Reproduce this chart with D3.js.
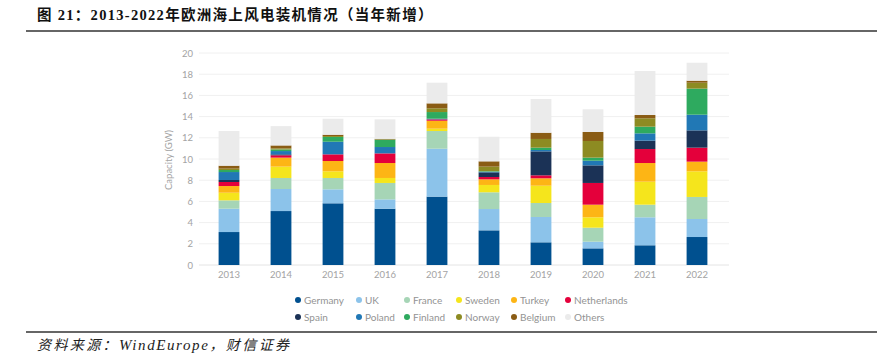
<!DOCTYPE html>
<html>
<head>
<meta charset="utf-8">
<script src="https://cdn.jsdelivr.net/npm/d3@7"></script>
<style>
  body{margin:0;background:#fff;}
  svg{display:block;}
</style>
</head>
<body>
<svg id="chart"></svg>
<script>
// years and countries
const years = ["2013","2014","2015","2016","2017","2018","2019","2020","2021","2022"];
const countries = ["Germany","UK","France","Sweden","Turkey","Netherlands","Spain","Poland","Finland","Norway","Belgium","Others"];
const colors = ["#00508f","#8cc3ea","#a6d5b6","#f5e51c","#fdb515","#e4003b","#1b3256","#2178b5","#2eaa5f","#8d8b22","#8a5c14","#ebebeb"];

// annual additions (GW), one array per country
const germany     = [3.11,5.09,5.82,5.31,6.45,3.27,2.14,1.57,1.86,2.64];
const uk          = [2.20,2.08,1.32,0.88,4.52,2.01,2.39,0.63,2.64,1.70];
const france      = [0.79,1.04,1.07,1.55,1.67,1.58,1.32,1.32,1.19,2.08];
const sweden      = [0.72,1.07,0.63,0.47,0.22,0.69,1.63,0.98,2.17,2.42];
const turkey      = [0.63,0.85,0.97,1.41,0.75,0.53,0.70,1.19,1.76,0.91];
const netherlands = [0.38,0.22,0.63,0.91,0.13,0.22,0.28,2.05,1.32,1.32];
const spain       = [0.19,0.09,0.00,0.00,0.00,0.44,2.26,1.66,0.79,1.63];
const poland      = [0.75,0.31,1.19,0.60,0.06,0.06,0.13,0.44,0.69,1.48];
const finland     = [0.19,0.15,0.45,0.69,0.63,0.05,0.22,0.29,0.63,2.46];
const norway      = [0.13,0.10,0.09,0.03,0.35,0.43,0.82,1.57,0.79,0.56];
const belgium     = [0.28,0.28,0.12,0.05,0.47,0.50,0.59,0.85,0.31,0.19];
const others      = [3.27,1.82,1.51,1.84,1.95,2.32,3.18,2.14,4.15,1.69];
const series = [germany,uk,france,sweden,turkey,netherlands,spain,poland,finland,norway,belgium,others];

const yTicks = [0,2,4,6,8,10,12,14,16,18,20];

const WIDTH = 879, HEIGHT = 363;
const GREY_TEXT = "#a3a3a3";
const SERIF = "'Liberation Serif','Noto Sans CJK SC',serif";
const svg = d3.select("#chart").attr("width", WIDTH).attr("height", HEIGHT);

// title + rules
svg.append("text")
  .attr("x", 37).attr("y", 20)
  .attr("font-family", SERIF)
  .attr("font-weight", "bold")
  .attr("font-size", 14.5)
  .attr("letter-spacing", 1.3)
  .attr("fill", "#111")
  .text("图 21：2013-2022年欧洲海上风电装机情况（当年新增）");

svg.append("line").attr("x1", 26).attr("x2", 877).attr("y1", 31).attr("y2", 31)
  .attr("stroke", "#333").attr("stroke-width", 1.5);
svg.append("line").attr("x1", 26).attr("x2", 877).attr("y1", 332).attr("y2", 332)
  .attr("stroke", "#333").attr("stroke-width", 1.5);

// source line, latin part kept tighter than the CJK parts
const source = svg.append("text")
  .attr("x", 37).attr("y", 350)
  .attr("font-family", SERIF)
  .attr("font-style", "italic")
  .attr("font-size", 14)
  .attr("fill", "#222");
source.append("tspan").attr("letter-spacing", 2.4).text("资料来源：");
source.append("tspan").attr("letter-spacing", 1.6).attr("font-size", 15).text("WindEurope");
source.append("tspan").attr("letter-spacing", 2.4).text("，财信证券");

// scales
const x = d3.scaleBand().domain(years).range([203, 723]).paddingInner(0.6).paddingOuter(0.3);
const y = d3.scaleLinear().domain([0, 20]).range([265, 53]);

const FONT = "Lato, 'Open Sans', sans-serif";

// gridlines
svg.append("g").selectAll("line")
  .data(yTicks)
  .join("line")
  .attr("x1", 199).attr("x2", 729)
  .attr("y1", d => y(d)).attr("y2", d => y(d))
  .attr("stroke", d => d === 0 ? "#e4e4e4" : "#f0f0f0")
  .attr("stroke-width", 1);

// y axis labels
const yAxis = svg.append("g")
  .attr("transform", "translate(193,0)")
  .call(d3.axisLeft(y).tickValues(yTicks).tickSize(0).tickPadding(0));
yAxis.select(".domain").remove();
yAxis.selectAll("text")
  .attr("font-family", FONT).attr("font-size", 9.5).attr("fill", GREY_TEXT);

svg.append("text")
  .attr("transform", "translate(172,160) rotate(-90)")
  .attr("text-anchor", "middle")
  .attr("font-family", FONT).attr("font-size", 9.5).attr("fill", GREY_TEXT)
  .text("Capacity (GW)");

// x axis labels
const xAxis = svg.append("g")
  .attr("transform", "translate(0,271)")
  .call(d3.axisBottom(x).tickSize(0).tickPadding(0));
xAxis.select(".domain").remove();
xAxis.selectAll("text")
  .attr("font-family", FONT).attr("font-size", 9.5).attr("fill", GREY_TEXT);

// stacked bars
const table = years.map((yr, i) => {
  const row = {year: yr};
  countries.forEach((c, j) => row[c] = series[j][i]);
  return row;
});
const stacked = d3.stack().keys(countries)(table);

svg.append("g").selectAll("g")
  .data(stacked)
  .join("g")
  .attr("fill", (d, i) => colors[i])
  .selectAll("rect")
  .data(d => d)
  .join("rect")
  .attr("x", d => x(d.data.year))
  .attr("width", x.bandwidth())
  .attr("y", d => y(d[1]))
  .attr("height", d => y(d[0]) - y(d[1]));

// legend
const legendX = [298, 359, 407, 459, 514, 568];
const legendY = [300, 317];
const legend = svg.append("g").selectAll("g")
  .data(countries)
  .join("g")
  .attr("transform", (d, i) => "translate(" + [legendX[i % 6], legendY[Math.floor(i / 6)]] + ")");
legend.append("circle").attr("r", 3).attr("fill", (d, i) => colors[i]);
legend.append("text")
  .attr("x", 6).attr("dy", "0.35em")
  .attr("font-family", FONT).attr("font-size", 10).attr("fill", "#939393")
  .text(d => d);
</script>
</body>
</html>
